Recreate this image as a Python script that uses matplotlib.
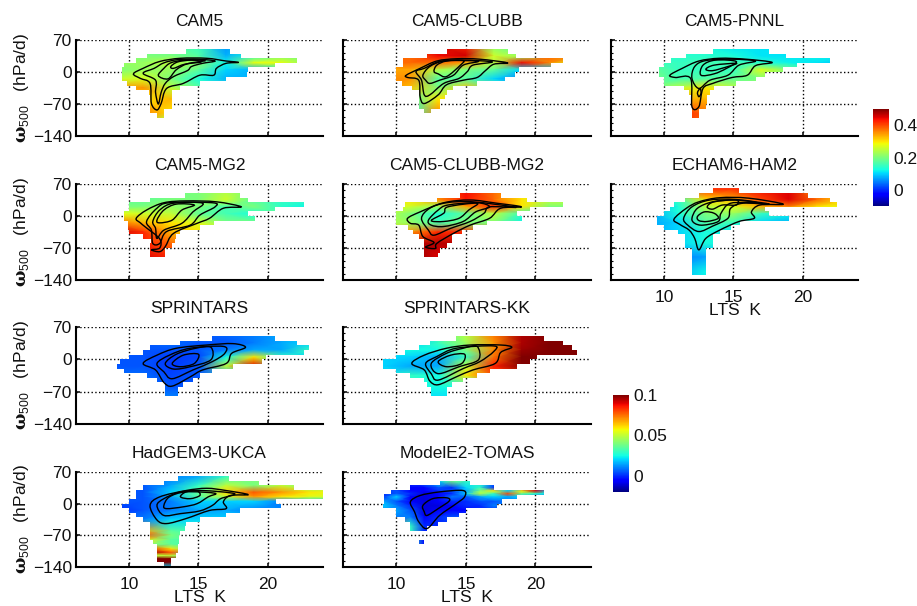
import numpy as np
import matplotlib
matplotlib.use("Agg")
import matplotlib.pyplot as plt
from matplotlib.path import Path
from matplotlib.patches import PathPatch

plt.rcParams["font.family"] = ["Liberation Sans", "DejaVu Sans"]
plt.rcParams["mathtext.fontset"] = "custom"
plt.rcParams["mathtext.rm"] = "Liberation Sans"
plt.rcParams["mathtext.bf"] = "DejaVu Serif:bold"
plt.rcParams["axes.unicode_minus"] = True

LTS_NODES = [9, 11, 13, 15, 17, 19, 21, 23, 25]
OMEGA_NODES = [60, 35, 20, 5, -15, -35, -60, -90, -120, -140]

# each panel: top of first 10 hPa/d band, band edges in K, colour values, contour loops
CAM5_TOP = 50
CAM5_LEFT = [14.1, 11.3, 10.5, 9.6, 9.5, 9.5, 9.5, 9.8, 10.5, 11.4, 11.5, 11.5, 11.5, 11.5, 12.0]
CAM5_RIGHT = [17.3, 18.1, 22.1, 20.5, 18.6, 18.5, 17.0, 15.1, 13.7, 13.1, 13.1, 13.1, 13.1, 12.5, 12.5]
CAM5_VALUES = [
    [.15, .15, .17, .15, .06, .12, .18, .18, .18],
    [.2, .2, .2, .17, .08, .14, .2, .2, .2],
    [.22, .22, .25, .21, .12, .28, .28, .2, .15],
    [.2, .22, .22, .18, .1, .08, .12, .12, .12],
    [.25, .27, .2, .13, .08, .08, .08, .08, .08],
    [.34, .35, .25, .18, .14, .1, .1, .1, .1],
    [.3, .3, .33, .3, .2, .2, .2, .2, .2],
    [.38, .37, .3, .3, .3, .3, .3, .3, .3],
    [.2, .2, .2, .2, .2, .2, .2, .2, .2],
    [.2, .2, .2, .2, .2, .2, .2, .2, .2],
]
CAM5_LINES = [
    [(10.3, -4), (11, 8), (12.2, 23), (13.7, 30), (15.6, 30), (17, 24), (17.9, 21), (17, 19), (16.3, 8), (16.1, -7), (15.1, -7), (13.9, -25), (12.7, -36), (12.3, -69), (12, -83), (11.6, -69), (11.5, -25), (10.8, -14)],
    [(11, -3), (11.8, 8), (12.5, 20), (13.5, 27), (15, 28), (16.2, 24), (15.3, 19), (14.5, 12), (14.2, 3), (13.2, -10), (12.6, -25), (12.3, -45), (12.1, -70), (11.9, -45), (11.9, -18)],
    [(12.1, -8), (12.5, 8), (13, 20), (14, 26), (15.5, 25), (14.2, 18), (13.4, 5), (12.8, -15)],
    [(13, 12), (13.5, 22), (14.5, 26), (15.2, 22), (14, 17), (13.2, 8)],
]

CLUBB_TOP = 50
CLUBB_LEFT = [13.6, 12.2, 10.5, 10.5, 10, 10, 10, 10.4, 11.1, 11.6, 11.6, 11.6, 11.6, 12]
CLUBB_RIGHT = [18, 18.6, 22, 21.1, 18.8, 18.5, 17.8, 15.8, 14.1, 13.6, 13.5, 13.1, 13.1, 12.5]
CLUBB_VALUES = [
    [.45, .45, .47, .42, .2, .14, .2, .2, .2],
    [.38, .38, .44, .46, .26, .22, .38, .38, .38],
    [.38, .38, .38, .34, .24, .44, .36, .27, .25],
    [.34, .34, .24, .2, .18, .1, .08, .08, .08],
    [.36, .35, .17, .17, .1, .05, .05, .05, .05],
    [.38, .32, .2, .32, .2, .1, .1, .1, .1],
    [.3, .15, .3, .3, .3, .3, .3, .3, .3],
    [.12, .14, .36, .3, .3, .3, .3, .3, .3],
    [.2, .2, .2, .2, .2, .2, .2, .2, .2],
    [.2, .2, .2, .2, .2, .2, .2, .2, .2],
]
CLUBB_LINES = [
    [(10.7, -7), (11.7, 8), (12.9, 24), (14.3, 29), (16, 28), (18, 20), (17, 17), (16.4, 3), (15.8, -12), (14.8, -18), (13.6, -28), (13, -50), (12, -69), (11.7, -54), (11.6, -18), (10.8, -12)],
    [(11.4, 1), (12, 8), (13.1, 23), (14.8, 26), (16.9, 22), (15.5, 15), (15.1, 1), (14.5, -14), (13.4, -25), (12.4, -50), (12, -50), (11.8, -18)],
    [(11.9, -7), (12.4, 12), (13.4, 24), (15, 25), (15.9, 23), (14.8, 15), (14.1, -7), (13.1, -18), (12.4, -25), (12.1, -18)],
    [(12.7, 1), (12.9, 15), (13.6, 24), (14.8, 25), (14.6, 15), (13.6, -10), (13, -4)],
]

PNNL_TOP = 50
PNNL_LEFT = [13.5, 11.6, 10.5, 10, 9.6, 9.6, 10, 10, 11.4, 11.8, 12, 12, 12, 12, 12]
PNNL_RIGHT = [17.6, 18.8, 22, 19.6, 18.6, 17.3, 16.6, 15.2, 13.6, 13.3, 13.1, 13.1, 13, 12.5, 12.5]
PNNL_VALUES = [
    [.13, .13, .13, .11, .11, .11, .12, .12, .12],
    [.14, .14, .14, .13, .11, .11, .12, .12, .12],
    [.15, .15, .16, .16, .14, .12, .11, .09, .09],
    [.19, .15, .15, .15, .27, .2, .15, .15, .15],
    [.2, .16, .17, .18, .2, .2, .2, .2, .2],
    [.15, .25, .3, .25, .2, .2, .2, .2, .2],
    [.3, .34, .33, .3, .3, .3, .3, .3, .3],
    [.43, .43, .38, .38, .38, .38, .38, .38, .38],
    [.4, .4, .4, .4, .4, .4, .4, .4, .4],
    [.4, .4, .4, .4, .4, .4, .4, .4, .4],
]
PNNL_LINES = [
    [(10.4, -7), (11.3, 8), (12.5, 24), (14, 30), (15.9, 28), (17.8, 21), (16.6, 14), (16, -7), (14.9, -12), (13.5, -25), (12.8, -36), (12.5, -76), (12, -76), (11.9, -14), (10.8, -12)],
    [(12, -14), (12.2, 12), (13, 25), (14.9, 28), (16.6, 24), (15.4, 15), (14.6, -7), (13.3, -18), (12.5, -36)],
    [(12.65, -7), (12.8, 15), (13.7, 26), (15.2, 23), (14.5, 8), (13.6, -4)],
    [(13, 6), (13.6, 15), (15.2, 19), (14.6, 12), (13.5, 3)],
    [(12.4, -45), (12.6, -36), (12.65, -47), (12.5, -54)],
]

MG2_TOP = 50
MG2_LEFT = [14, 11.5, 10, 10, 9.6, 9.6, 9.9, 9.9, 10, 11, 11.6, 11.5, 11.5, 11.5]
MG2_RIGHT = [18, 18.6, 22.6, 20.5, 18.6, 19.1, 16.1, 15.1, 13.7, 13.4, 13.3, 13.1, 12.6, 12.6]
MG2_VALUES = [
    [.18, .18, .18, .2, .23, .2, .2, .2, .2],
    [.18, .18, .2, .2, .26, .17, .15, .15, .15],
    [.2, .2, .22, .2, .16, .2, .14, .12, .12],
    [.28, .26, .25, .18, .16, .13, .2, .2, .2],
    [.38, .33, .3, .27, .2, .2, .2, .2, .2],
    [.46, .42, .33, .3, .3, .3, .3, .3, .3],
    [.4, .43, .38, .35, .35, .35, .35, .35, .35],
    [.44, .45, .42, .42, .42, .42, .42, .42, .42],
    [.4, .4, .4, .4, .4, .4, .4, .4, .4],
    [.4, .4, .4, .4, .4, .4, .4, .4, .4],
]
MG2_LINES = [
    [(10.5, -5), (11.25, 13), (12.5, 29), (14.1, 33), (16.3, 31), (18.1, 20), (16.8, 17), (15.8, -5), (14.9, -16), (13.2, -38), (12.6, -67), (12.2, -78), (11.6, -74), (12.2, -70), (12.2, -50), (11.2, -25), (10.8, -15)],
    [(11.25, -12), (12, 17), (12.9, 29), (16, 29), (16.2, 20), (15.1, 2), (14.4, -20), (12.7, -34), (12.2, -60), (11.7, -60), (11.6, -31)],
    [(11.7, -12), (12.2, 13), (13.2, 28), (15.3, 28), (14.6, 9), (13.8, -16), (12.5, -31), (12, -49), (11.9, -27)],
    [(12, -9), (12.5, 13), (13.4, 26), (14.7, 24), (13.8, 13), (13.1, -9), (12.2, -15)],
]

CMG_TOP = 50
CMG_LEFT = [14.6, 12.9, 10.6, 10.5, 10, 10, 10, 10.8, 11.2, 11.6, 12, 12, 12, 12]
CMG_RIGHT = [17.5, 19.4, 22, 19.6, 18.7, 19, 16.5, 15.5, 14.7, 14, 14, 13.6, 13.1, 13]
CMG_VALUES = [
    [.38, .38, .38, .44, .38, .3, .3, .3, .3],
    [.28, .3, .35, .43, .38, .3, .25, .25, .25],
    [.28, .26, .22, .34, .42, .3, .2, .2, .2],
    [.25, .2, .13, .18, .25, .15, .12, .12, .12],
    [.24, .22, .16, .2, .2, .12, .12, .12, .12],
    [.3, .35, .42, .42, .4, .4, .4, .4, .4],
    [.3, .47, .47, .47, .47, .47, .47, .47, .47],
    [.5, .5, .45, .45, .45, .45, .45, .45, .45],
    [.45, .45, .45, .45, .45, .45, .45, .45, .45],
    [.45, .45, .45, .45, .45, .45, .45, .45, .45],
]
CMG_LINES = [
    [(10.8, -5), (11.7, 9), (13.4, 29), (15.3, 35), (17.2, 28), (19, 20), (17.5, 17), (16.7, -5), (15.3, -20), (14.1, -38), (12.9, -60), (12.8, -71), (12.1, -68), (12.7, -58), (11.9, -45), (11.6, -20), (11, -16)],
    [(11.8, -5), (12.4, 17), (13.6, 29), (15.5, 31), (18.6, 19), (16.7, 20), (16.3, 6), (15.3, -12), (13.9, -27), (12.7, -42), (12.3, -31)],
    [(12.3, -9), (13, 13), (13.7, 24), (15.8, 29), (16.7, 20), (15.7, 9), (14.8, -12), (13.4, -23), (12.5, -20)],
    [(12.5, -10), (13.4, 6), (13.7, 20), (15.8, 28), (15.2, 13), (14.5, -5), (13.4, -12)],
]

ECHAM_TOP = 60
ECHAM_LEFT = [13.5, 12.5, 11.5, 10.7, 10.4, 10, 9.5, 9.5, 10, 11, 11.5, 11.5, 11.5, 12, 12, 12, 12, 12, 12]
ECHAM_RIGHT = [15.4, 20.4, 22.0, 22.5, 17.3, 17.6, 19, 15.5, 14.8, 14, 13.5, 13.5, 13.5, 13, 13, 13, 13, 13, 13]
ECHAM_VALUES = [
    [.36, .36, .42, .42, .44, .45, .35, .35, .35],
    [.1, .15, .3, .33, .4, .45, .38, .3, .3],
    [.08, .13, .24, .27, .33, .36, .3, .28, .28],
    [.07, .13, .2, .22, .15, .12, .1, .1, .1],
    [.07, .1, .17, .15, .1, .08, .08, .08, .08],
    [.08, .1, .13, .11, .1, .1, .1, .1, .1],
    [.1, .1, .13, .12, .12, .12, .12, .12, .12],
    [.05, .05, .07, .07, .07, .07, .07, .07, .07],
    [.05, .08, .12, .12, .12, .12, .12, .12, .12],
    [.05, .08, .12, .12, .12, .12, .12, .12, .12],
]
ECHAM_LINES = [
    [(10.7, -7), (11.6, 17), (12.5, 31), (14, 40), (16.1, 39), (18.6, 26), (16.9, 24), (16.3, 9), (16.5, -5), (15.4, -12), (14, -31), (13, -49), (12.5, -74), (12.2, -49), (11.8, -31), (11.1, -18)],
    [(11.4, -5), (12, 20), (13.3, 35), (15.2, 36), (17.6, 26), (15.7, 28), (14.8, 17), (14.6, -5), (13.5, -22), (12.5, -34), (11.7, -20)],
    [(12, -5), (12.4, 17), (13.5, 31), (15.1, 35), (16.7, 29), (14.8, 28), (14.1, 6), (13.9, -12), (12.8, -20), (12.2, -16)],
    [(12.4, -1), (12.9, 9), (13.6, 6), (13.9, -5), (13.1, -12), (12.5, -10)],
    [(13.1, 20), (13.6, 31), (15.2, 35), (15.2, 24), (14.2, 24), (13.5, 15)],
]

SPR_TOP = 50
SPR_LEFT = [16, 13.7, 11.5, 11, 10, 9.3, 9.1, 9.6, 11.3, 12, 12.6, 12.6, 12.6]
SPR_RIGHT = [20.5, 22.1, 23, 22.6, 19.9, 19.6, 17.5, 16, 15.1, 14.6, 13.9, 13.5, 13.5]
SPR_VALUES = [
    [.005, .005, .008, .005, .008, .01, .015, .02, .02],
    [.005, .005, .008, .005, .005, .01, .015, .02, .02],
    [.005, .005, .005, .005, .01, .015, .015, .03, .03],
    [.005, .005, .002, .003, .025, .06, .03, .02, .02],
    [.005, .005, .002, .005, .05, .09, .03, .03, .03],
    [.008, .008, .003, .005, .015, .02, .02, .02, .02],
    [.01, .01, .005, .005, .005, .005, .005, .005, .005],
    [.01, .01, .012, .012, .012, .012, .012, .012, .012],
    [.01, .01, .01, .01, .01, .01, .01, .01, .01],
    [.01, .01, .01, .01, .01, .01, .01, .01, .01],
]
SPR_LINES = [
    [(11, -9), (12, 9), (13.4, 24), (15.6, 31), (17.5, 34), (18.4, 26), (17.4, 13), (17, -9), (15.3, -23), (14.4, -38), (13.1, -58), (12.5, -50), (11.9, -23)],
    [(12, -9), (12.9, 9), (14.4, 24), (16.8, 28), (16.9, 13), (16, -5), (14.6, -23), (13.1, -42), (12.5, -27)],
    [(12.6, -9), (13.4, 11), (14.8, 24), (15.9, 26), (15.9, -1), (14.4, -16), (13.2, -21)],
    [(13.1, -9), (13.9, 9), (15, 11), (14.7, -9), (13.7, -16)],
]

KK_TOP = 50
KK_LEFT = [14.3, 12.4, 11.6, 10.6, 10, 9, 9, 10, 11, 12, 12.2, 12.5, 12.5]
KK_RIGHT = [20.6, 22, 22.6, 23, 20.1, 19.6, 18.7, 16.7, 15.8, 14.8, 14, 13.6, 13.6]
KK_VALUES = [
    [.02, .02, .03, .05, .075, .095, .1, .1, .1],
    [.02, .02, .03, .045, .07, .095, .1, .1, .1],
    [.025, .025, .025, .04, .072, .097, .1, .1, .1],
    [.02, .02, .015, .03, .075, .1, .1, .1, .1],
    [.02, .015, .015, .05, .085, .1, .1, .1, .1],
    [.02, .03, .025, .06, .08, .08, .08, .08, .08],
    [.02, .025, .025, .025, .025, .025, .025, .025, .025],
    [.02, .02, .02, .02, .02, .02, .02, .02, .02],
    [.02, .02, .02, .02, .02, .02, .02, .02, .02],
    [.02, .02, .02, .02, .02, .02, .02, .02, .02],
]
KK_LINES = [
    [(11.1, -9), (12, 9), (13.6, 24), (15.3, 31), (17.5, 31), (18.3, 26), (17.5, 15), (17.1, -9), (15.5, -23), (14.3, -38), (13, -55), (12.4, -47), (12, -23)],
    [(12.1, -9), (12.9, 6), (14.3, 24), (17, 29), (17, 17), (16, -5), (14.8, -20), (13, -45), (12.5, -31)],
    [(12.5, -9), (13.6, 13), (14.8, 24), (15.8, 28), (15.9, -1), (14.5, -16), (13, -31)],
    [(13, -5), (13.9, 9), (14.9, 11), (14.7, -9), (13.6, -16)],
]

HAD_TOP = 60
HAD_LEFT = [13.5, 12.5, 11, 10.5, 10.5, 10, 9.5, 10, 10.5, 11, 11.5, 11.5, 11.5, 11.5, 11.7, 12, 12, 12, 12, 12.5]
HAD_RIGHT = [17.2, 19.4, 21.9, 24.2, 24.2, 20.6, 21, 18, 17, 15.1, 14.1, 14, 13.7, 13.6, 13.6, 13.5, 13.5, 13.4, 13, 13]
HAD_OMEGA = [60, 40, 25, 15, 5, -15, -35, -60, -70, -80, -90, -100, -108, -115, -122, -130, -140]
HAD_VALUES = [
    [.005, .005, .01, .015, .03, .04, .04, .04, .04],
    [.005, .005, .015, .03, .05, .04, .05, .04, .04],
    [.005, .005, .02, .035, .062, .078, .07, .06, .055],
    [.005, .005, .015, .035, .05, .07, .06, .055, .05],
    [.005, .005, .01, .02, .02, .02, .01, .02, .02],
    [0, .005, .01, .015, .015, .01, .01, .01, .01],
    [.01, .01, .02, .02, .02, .02, .02, .02, .02],
    [.05, .07, .035, .03, .03, .03, .03, .03, .03],
    [.08, .08, .04, .03, .03, .03, .03, .03, .03],
    [.06, .06, .035, .03, .03, .03, .03, .03, .03],
    [.04, .045, .035, .03, .03, .03, .03, .03, .03],
    [.08, .09, .06, .03, .03, .03, .03, .03, .03],
    [.09, .1, .08, .03, .03, .03, .03, .03, .03],
    [.05, .05, .05, .03, .03, .03, .03, .03, .03],
    [.1, .11, .1, .03, .03, .03, .03, .03, .03],
    [.1, .11, .1, .03, .03, .03, .03, .03, .03],
    [.02, .02, .02, .02, .02, .02, .02, .02, .02],
]
HAD_LINES = [
    [(11.5, -4), (12.2, 15), (14.1, 29), (15.6, 34), (17, 29), (18.6, 20), (17.3, 18), (16.8, 4), (17, -11), (15.8, -15), (14.1, -33), (12.7, -44), (12, -36)],
    [(12, -4), (12.5, 11), (13.7, 26), (15.3, 29), (17.6, 22), (16.6, 11), (16, -4), (15.1, -16), (13.7, -22), (12.5, -26)],
    [(12.5, -4), (12.9, 15), (14.1, 26), (16.2, 23), (15.7, 15), (14.9, 0), (13.9, -7), (12.7, -11)],
    [(13.7, 15), (14.1, 26), (14.9, 28), (15.1, 18), (14.4, 11)],
]

TOMAS_TOP = 50
TOMAS_LEFT = [13.1, 11, 9.6, 9.1, 9.1, 9, 10, 10, 10.6, 11, 11, np.nan, np.nan, 11.6]
TOMAS_RIGHT = [15.3, 17, 20.6, 18.7, 17.6, 17.2, 15, 14.5, 13.6, 13, 12.2, np.nan, np.nan, 12]
TOMAS_LTS = [9, 10, 11, 12, 13, 14, 15, 16, 17, 18, 19, 20, 21]
TOMAS_OMEGA = [50, 35, 28, 22, 15, 5, -5, -15, -30, -50, -90]
TOMAS_VALUES = [
    [0, 0, 0, .01, .02, .04, .03, .02, .01, .01, 0, 0, 0],
    [.01, 0, -.005, -.005, .005, 0, .02, .03, 0, 0, 0, 0, 0],
    [0, .005, -.005, -.005, 0, .005, .015, .04, .06, .02, .06, .09, .02],
    [0, .005, 0, -.01, -.005, 0, .02, .05, .03, .08, .04, .03, .02],
    [0, .02, -.005, -.01, -.005, .01, .005, .015, .02, .015, .02, .01, .01],
    [.015, .005, -.005, -.01, -.005, 0, 0, .005, .005, .01, .01, .01, .01],
    [.02, .01, 0, -.01, -.01, -.005, 0, 0, .01, .01, .01, .01, .01],
    [.01, .015, .005, -.01, -.005, -.005, -.005, 0, 0, 0, 0, 0, 0],
    [.005, .01, .01, -.005, 0, .005, .005, 0, 0, 0, 0, 0, 0],
    [.01, .08, .03, 0, 0, 0, 0, 0, 0, 0, 0, 0, 0],
    [-.01, .03, .03, -.005, 0, 0, 0, 0, 0, 0, 0, 0, 0],
]
TOMAS_LINES = [
    [(11, 4), (11.7, 18), (13.1, 26), (14.8, 29), (14.9, 15), (14.3, 0), (13.1, -26), (12.2, -55), (11.6, -40), (11.3, -18)],
    [(11.9, -4), (12.6, 11), (13.6, 13), (13.8, 6), (13, -11), (12.2, -26), (12, -18)],
]

RANGE_A = (-0.1, 0.5)
RANGE_B = (-0.02, 0.1)

COL_X = [(76, 323), (343, 591), (611, 858)]
ROW_Y = [(40, 136), (184, 280), (327, 424), (472, 567)]
W, H = 917, 606


def add_axes_px(fig, x0, x1, y0, y1):
    return fig.add_axes([x0 / W, 1 - y1 / H, (x1 - x0) / W, (y1 - y0) / H])


def band_path(top, left, right):
    # staircase outline, one rectangle per 10 hPa/d band
    verts, codes = [], []
    for i, (l, r) in enumerate(zip(left, right)):
        if np.isnan(l):
            continue
        t = top - 10 * i + 0.3
        b = top - 10 * (i + 1)
        verts += [(l, t), (r, t), (r, b), (l, b), (l, t)]
        codes += [Path.MOVETO, Path.LINETO, Path.LINETO, Path.LINETO, Path.CLOSEPOLY]
    return Path(verts, codes)


def loop_path(loop):
    pts = np.array(loop, dtype=float)
    n = len(pts)
    verts = [pts[0]]
    codes = [Path.MOVETO]
    for i in range(n):
        p0, p1, p2, p3 = pts[i - 1], pts[i], pts[(i + 1) % n], pts[(i + 2) % n]
        verts += [p1 + (p2 - p0) / 6, p2 - (p3 - p1) / 6, p2]
        codes += [Path.CURVE4, Path.CURVE4, Path.CURVE4]
    return Path(verts, codes)


def draw_panel(fig, col, row, title, top, left, right, values, lines, limits, lts=LTS_NODES, omega=OMEGA_NODES, xlabel=False):
    ax = add_axes_px(fig, COL_X[col][0], COL_X[col][1], ROW_Y[row][0], ROW_Y[row][1])
    mesh = ax.pcolormesh(lts, omega, np.array(values), shading="gouraud", cmap="jet",
                         vmin=limits[0], vmax=limits[1], zorder=2)
    mesh.set_clip_path(band_path(top, left, right), ax.transData)
    for loop in lines:
        ax.add_patch(PathPatch(loop_path(loop), fill=False, edgecolor="black", lw=1.0, zorder=3))
    ax.set_xlim(6.15, 24)
    ax.set_ylim(-140, 70)
    ax.set_xticks([10, 15, 20])
    ax.set_yticks([-140, -70, 0, 70])
    ax.grid(True, color="black", linestyle=(0, (1, 1.7)), linewidth=1.0)
    ax.set_axisbelow(True)
    ax.spines["top"].set_visible(False)
    ax.spines["right"].set_visible(False)
    ax.spines["left"].set_linewidth(1.5)
    ax.spines["bottom"].set_linewidth(1.5)
    ax.tick_params(direction="in", length=3, width=1.2, labelsize=12.5, colors="#111111")
    ax.tick_params(axis="x", pad=7)
    ax.tick_params(axis="y", pad=3)
    ax.set_title(title, fontsize=12.5, pad=10, color="#111111")
    if col == 0:
        ax.set_yticklabels(["\u2212140", "\u221270", "0", "70"])
        ax.set_ylabel(r"$\mathbf{\omega}_{\mathrm{500}}$   (hPa/d)", fontsize=12.5, color="#111111")
        ax.yaxis.set_label_coords(-0.183, 0.5)
    else:
        ax.set_yticklabels([])
        ax.set_yticks(np.arange(-140, 71, 14), minor=True)
        ax.tick_params(axis="y", which="minor", direction="in", length=1.5, width=0.8)
    if xlabel:
        ax.set_xlabel("LTS  K", fontsize=12.5, labelpad=-1, color="#111111")
    else:
        ax.set_xticklabels([])
    return ax, mesh


fig = plt.figure(figsize=(W / 100, H / 100), dpi=100)

_, mesh_a = draw_panel(fig, 0, 0, "CAM5", CAM5_TOP, CAM5_LEFT, CAM5_RIGHT, CAM5_VALUES, CAM5_LINES, RANGE_A)
draw_panel(fig, 1, 0, "CAM5-CLUBB", CLUBB_TOP, CLUBB_LEFT, CLUBB_RIGHT, CLUBB_VALUES, CLUBB_LINES, RANGE_A)
draw_panel(fig, 2, 0, "CAM5-PNNL", PNNL_TOP, PNNL_LEFT, PNNL_RIGHT, PNNL_VALUES, PNNL_LINES, RANGE_A)
draw_panel(fig, 0, 1, "CAM5-MG2", MG2_TOP, MG2_LEFT, MG2_RIGHT, MG2_VALUES, MG2_LINES, RANGE_A)
draw_panel(fig, 1, 1, "CAM5-CLUBB-MG2", CMG_TOP, CMG_LEFT, CMG_RIGHT, CMG_VALUES, CMG_LINES, RANGE_A)
draw_panel(fig, 2, 1, "ECHAM6-HAM2", ECHAM_TOP, ECHAM_LEFT, ECHAM_RIGHT, ECHAM_VALUES, ECHAM_LINES, RANGE_A, xlabel=True)
_, mesh_b = draw_panel(fig, 0, 2, "SPRINTARS", SPR_TOP, SPR_LEFT, SPR_RIGHT, SPR_VALUES, SPR_LINES, RANGE_B)
draw_panel(fig, 1, 2, "SPRINTARS-KK", KK_TOP, KK_LEFT, KK_RIGHT, KK_VALUES, KK_LINES, RANGE_B)
draw_panel(fig, 0, 3, "HadGEM3-UKCA", HAD_TOP, HAD_LEFT, HAD_RIGHT, HAD_VALUES, HAD_LINES, RANGE_B, omega=HAD_OMEGA, xlabel=True)
draw_panel(fig, 1, 3, "ModelE2-TOMAS", TOMAS_TOP, TOMAS_LEFT, TOMAS_RIGHT, TOMAS_VALUES, TOMAS_LINES, RANGE_B, lts=TOMAS_LTS, omega=TOMAS_OMEGA, xlabel=True)

cax_a = add_axes_px(fig, 873, 889, 109, 206)
cbar_a = fig.colorbar(mesh_a, cax=cax_a, ticks=[0, 0.2, 0.4])
cbar_a.ax.set_yticklabels(["0", "0.2", "0.4"])
cax_b = add_axes_px(fig, 613, 629, 395, 492)
cbar_b = fig.colorbar(mesh_b, cax=cax_b, ticks=[0, 0.05, 0.1])
cbar_b.ax.set_yticklabels(["0", "0.05", "0.1"])
for cbar in [cbar_a, cbar_b]:
    cbar.outline.set_visible(False)
    cbar.ax.tick_params(length=0, labelsize=12.5, pad=3, colors="#111111")

fig.savefig("out.png", dpi=100)
